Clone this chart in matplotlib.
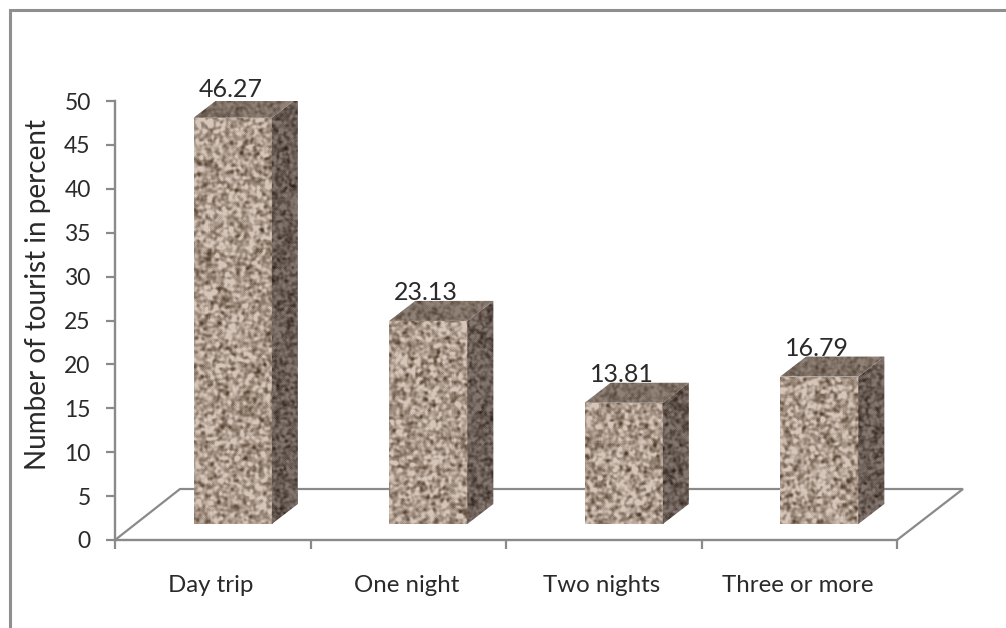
import numpy as np
import matplotlib
matplotlib.use("Agg")
import matplotlib.pyplot as plt
from matplotlib.lines import Line2D
from matplotlib.patches import Polygon
from matplotlib.transforms import Affine2D, IdentityTransform

categories = ["Day trip", "One night", "Two nights", "Three or more"]
values = [46.27, 23.13, 13.81, 16.79]
y_ticks = [0, 5, 10, 15, 20, 25, 30, 35, 40, 45, 50]
y_title = "Number of tourist in percent"

W, H = 1006, 628
DEPTH_X, DEPTH_Y = 26, 20      # receding edge of a bar, pixels
FLOOR_X, FLOOR_Y = 65, 51      # receding edge of the floor, pixels
BAR_SHIFT_X, BAR_SHIFT_Y = 20, 16
GREY = "#8a8a8a"
TEXT = "#2a2a2a"

plt.rcParams["font.family"] = ["Lato", "DejaVu Sans"]
fig = plt.figure(figsize=(W / 100, H / 100), dpi=100)

# Outer frame: only the left and top edges fall inside the canvas.
fig.add_artist(Line2D([9.5 / W, 9.5 / W, 1], [0, 1 - 10 / H, 1 - 10 / H],
                      transform=fig.transFigure, color="#8f8f8f", lw=2.2,
                      solid_joinstyle="miter"))

left, right, top, bottom = 115, 897, 101, 540
ax = fig.add_axes([left / W, 1 - bottom / H, (right - left) / W, (bottom - top) / H])
ax.set_xlim(-0.5, 3.5)
ax.set_ylim(0, 50)
ax.patch.set_alpha(0)
for side in ("top", "right"):
    ax.spines[side].set_visible(False)
for side in ("left", "bottom"):
    ax.spines[side].set_color(GREY)
    ax.spines[side].set_linewidth(1.7)
ax.set_yticks(y_ticks)
ax.set_xticks([-0.5, 0.5, 1.5, 2.5, 3.5])
ax.set_xticklabels([])
ax.tick_params(axis="both", color=GREY, width=1.6, length=6.5)
ax.tick_params(axis="y", labelsize=16.5, labelcolor=TEXT, pad=11)

# Category labels sit between the tick marks.
for i, name in enumerate(categories):
    ax.annotate(name, (i, 0), xycoords="data", xytext=(-2, -45), textcoords="offset pixels",
                ha="center", va="center", fontsize=17.3, color=TEXT)

ax.set_ylabel(y_title, fontsize=20, color=TEXT, va="center")
ax.yaxis.set_label_coords((38 - left) / (right - left), (bottom - 295) / (bottom - top))

# Floor outline: side edges and the back edge.
px_to_data_x = 4 / (right - left)
px_to_data_y = 50 / (bottom - top)
floor_x = [-0.5, -0.5 + FLOOR_X * px_to_data_x, 3.5 + (FLOOR_X + 1) * px_to_data_x, 3.5]
floor_y = [0, FLOOR_Y * px_to_data_y, FLOOR_Y * px_to_data_y, 0]
ax.plot(floor_x, floor_y, color=GREY, lw=1.6, clip_on=False, zorder=1, solid_joinstyle="miter")


def speckle(seed, mean, spread, passes):
    """Mottled stone fill covering the figure, one colour array per bar face."""
    rng = np.random.default_rng(seed)
    noise = rng.normal(size=(H, W))
    for _ in range(passes):
        noise = (noise + np.roll(noise, 1, 0) + np.roll(noise, -1, 0)
                 + np.roll(noise, 1, 1) + np.roll(noise, -1, 1)) / 5
    spots = (noise - noise.mean()) / noise.std()
    shade = np.clip(spots, -3.2, 1.5)[..., None]
    rgb = np.array(mean)[None, None, :] + shade * np.array(spread)[None, None, :]
    return np.clip(rgb, 0, 255).astype(np.uint8)


front_fill = speckle(3, (172, 155, 141), (28, 29, 30), 4)
side_fill = speckle(4, (106, 93, 86), (17, 17, 17), 3)
top_fill = speckle(5, (124, 110, 99), (13, 13, 13), 3)

width = 0.4
bar_tf = Affine2D().translate(BAR_SHIFT_X, BAR_SHIFT_Y)
bars = ax.bar(range(len(values)), values, width=width, color="none", linewidth=0,
              transform=ax.transData + bar_tf, zorder=3)


def paint(fill, clip, z):
    im = ax.imshow(fill, extent=(0, W, 0, H), origin="lower", transform=IdentityTransform(),
                   interpolation="nearest", zorder=z, aspect="auto")
    im.set_clip_path(clip)


fig.canvas.draw()
for bar, value in zip(bars, values):
    (x0, y0), (x1, y1) = bar.get_window_extent().get_points()
    paint(front_fill, bar, 3)
    side = Polygon([(x1, y0), (x1 + DEPTH_X, y0 + DEPTH_Y), (x1 + DEPTH_X, y1 + DEPTH_Y), (x1, y1)],
                   transform=IdentityTransform(), fill=False, lw=0)
    lid = Polygon([(x0, y1), (x0 + DEPTH_X, y1 + DEPTH_Y), (x1 + DEPTH_X, y1 + DEPTH_Y), (x1, y1)],
                  transform=IdentityTransform(), fill=False, lw=0)
    ax.add_artist(side)
    ax.add_artist(lid)
    paint(side_fill, side, 3)
    paint(top_fill, lid, 3)
    ax.annotate(f"{value:.2f}", xy=((x0 + x1) / 2, y1), xycoords="figure pixels",
                xytext=(-2, 28), textcoords="offset pixels", ha="center", va="center",
                fontsize=18, color=TEXT, zorder=5, annotation_clip=False)

ax.set_xlim(-0.5, 3.5)
ax.set_ylim(0, 50)
ax.set_aspect("auto")
fig.savefig("out.png", dpi=100, facecolor="white")
